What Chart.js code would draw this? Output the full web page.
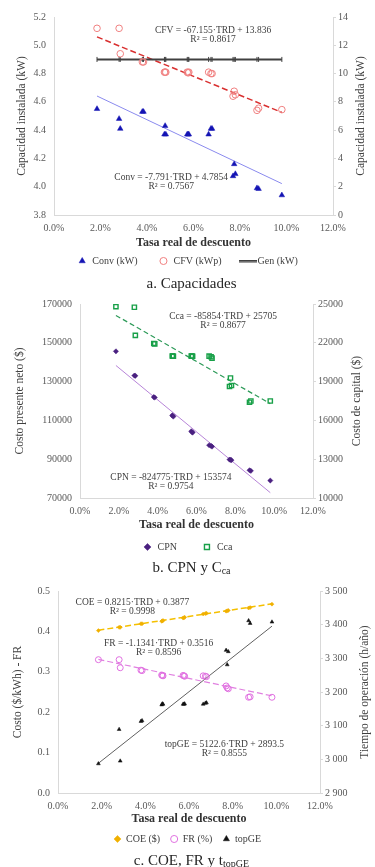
<!DOCTYPE html>
<html lang="es">
<head>
<meta charset="utf-8">
<title>Capacidades, CPN y COE vs TRD</title>
<script src="https://cdn.jsdelivr.net/npm/chart.js@4.4.1/dist/chart.umd.min.js"></script>
<style>
  body { margin: 0; background: #fff; width: 375px; height: 867px; position: relative; overflow: hidden; font-family: "Liberation Serif", "Times New Roman", serif; }
  .caja { position: absolute; left: 0; width: 375px; }
  .pie { position: absolute; left: 4px; width: 375px; text-align: center; font-size: 15px; line-height: 18px; color: #262626; }
  .pie sub { font-size: 10px; vertical-align: -2px; line-height: 0; }
</style>
</head>
<body>
<div class="caja" style="top:0;height:276px"><canvas id="graficoCap"></canvas></div>
<div class="pie" style="top:274px">a. Capacidades</div>
<div class="caja" style="top:290px;height:272px"><canvas id="graficoCPN"></canvas></div>
<div class="pie" style="top:558px">b. CPN y C<sub>ca</sub></div>
<div class="caja" style="top:577px;height:277px"><canvas id="graficoCOE"></canvas></div>
<div class="pie" style="top:851px">c. COE, FR y t<sub>topGE</sub></div>

<script>
// Tasa real de descuento de cada escenario
const trd = [0.0185, 0.028, 0.0285, 0.038, 0.0385, 0.0475, 0.0478, 0.0481, 0.0573, 0.0577,
             0.058, 0.0665, 0.0675, 0.068, 0.077, 0.0775, 0.078, 0.0873, 0.088, 0.098];

// a. Capacidades
const convKW = [4.55, 4.48, 4.41, 4.53, 4.53, 4.37, 4.43, 4.37, 4.37, 4.37,
                4.37, 4.37, 4.41, 4.41, 4.075, 4.16, 4.09, 3.99, 3.985, 3.94];
const cfvKWp = [13.2, 13.2, 11.4, 10.82, 10.82, 10.1, 10.1, 10.1, 10.1, 10.05,
                10.1, 10.1, 10.0, 10.0, 8.4, 8.75, 8.5, 7.4, 7.55, 7.45];
const genKW = [4.9, 4.9, 4.9, 4.9, 4.9, 4.9, 4.9, 4.9, 4.9, 4.9,
               4.9, 4.9, 4.9, 4.9, 4.9, 4.9, 4.9, 4.9, 4.9, 4.9];

// b. CPN y Cca
const cpn = [145600, 133100, 133000, 122000, 121800, 112600, 112300, 112000, 104400, 104000,
             103700, 97200, 96900, 96500, 89800, 89700, 89500, 84300, 84000, 79000];
const cca = [24800, 24750, 22570, 21950, 21920, 20980, 20970, 20960, 20970, 20980,
             20960, 20970, 20920, 20820, 18620, 19280, 18700, 17400, 17500, 17500];

// c. COE, FR y topGE
const coe = [0.402, 0.410, 0.410, 0.419, 0.419, 0.425, 0.426, 0.427, 0.433, 0.434,
             0.435, 0.443, 0.444, 0.445, 0.450, 0.451, 0.452, 0.458, 0.459, 0.4675];
const fr = [0.330, 0.330, 0.310, 0.304, 0.303, 0.292, 0.291, 0.290, 0.291, 0.290,
            0.289, 0.290, 0.289, 0.288, 0.265, 0.260, 0.258, 0.237, 0.238, 0.237];
const topGE = [2987, 3089, 2995, 3113, 3115, 3162, 3165, 3164, 3164, 3164,
               3165, 3164, 3167, 3168, 3324, 3281, 3320, 3412, 3404, 3408];

// ajustes lineales: [pendiente, ordenada, R²]
const ajusteConv = [-7.791, 4.7854, 0.7567];
const ajusteCFV = [-67.155, 13.836, 0.8617];
const ajusteCPN = [-824775, 153574, 0.9754];
const ajusteCca = [-85854, 25705, 0.8677];
const ajusteCOE = [0.8215, 0.3877, 0.9998];
const ajusteFR = [-1.1341, 0.3516, 0.8596];
const ajusteTop = [5122.6, 2893.5, 0.8555];

const FUENTE = '"Liberation Serif", "Times New Roman", serif';
const GRIS_EJE = '#d9d9d9';

function puntos(valores) {
    return trd.map((x, i) => ({ x: x, y: valores[i] }));
}

function recta(ajuste) {
    const x0 = Math.min(...trd);
    const x1 = Math.max(...trd);
    return [{ x: x0, y: ajuste[0] * x0 + ajuste[1] }, { x: x1, y: ajuste[0] * x1 + ajuste[1] }];
}

function ecuacion(nombre, ajuste) {
    const signo = ajuste[1] < 0 ? ' - ' : ' + ';
    return [nombre + ' = ' + ajuste[0] + '·TRD' + signo + Math.abs(ajuste[1]), 'R² = ' + ajuste[2]];
}

function miles(v) {
    const s = String(v);
    return s.length > 3 ? s.slice(0, -3) + ' ' + s.slice(-3) : s;
}

// linea para el icono de Gen en la leyenda
const lineaGen = document.createElement('canvas');
lineaGen.width = 18;
lineaGen.height = 3;
const g = lineaGen.getContext('2d');
g.fillStyle = '#404040';
g.fillRect(0, 0, 18, 2.5);

// ecuaciones de tendencia y titulo del eje derecho
function etiquetas(textos, tituloDer, xTitulo) {
    return {
        id: 'etiquetas',
        afterDatasetsDraw(chart) {
            const { ctx, chartArea } = chart;
            ctx.save();
            ctx.font = '9.5px ' + FUENTE;
            ctx.fillStyle = '#404040';
            ctx.textAlign = 'center';
            ctx.textBaseline = 'middle';
            textos.forEach(t => {
                const x = chartArea.left + t.fx * chartArea.width;
                const y = chartArea.top + t.fy * chartArea.height;
                t.lineas.forEach((linea, i) => ctx.fillText(linea, x, y + i * 9));
            });
            ctx.font = '11.5px ' + FUENTE;
            ctx.translate(xTitulo, (chartArea.top + chartArea.bottom) / 2);
            ctx.rotate(-Math.PI / 2);
            ctx.fillText(tituloDer, 0, 0);
            ctx.restore();
        }
    };
}

function ejeX(alto) {
    return {
        type: 'linear', min: 0, max: 0.12,
        grid: { display: false, drawTicks: false },
        border: { display: true, color: GRIS_EJE },
        ticks: {
            stepSize: 0.02, padding: 7, maxRotation: 0, autoSkip: false,
            color: '#595959', font: { family: FUENTE, size: 10 },
            callback: v => (v * 100).toFixed(1) + '%'
        },
        title: {
            display: true, text: 'Tasa real de descuento', color: '#333',
            font: { family: FUENTE, size: 12, weight: 'bold' }, padding: { top: 0, bottom: 0 }
        },
        afterFit: s => { s.height = alto; }
    };
}

function ejeY(lado, min, max, paso, titulo, ancho, margenTitulo, formato) {
    const derecho = lado === 'right';
    return {
        type: 'linear', position: lado, min: min, max: max,
        grid: { display: derecho, drawOnChartArea: false, drawTicks: derecho, tickLength: 3, color: GRIS_EJE },
        border: { display: true, color: GRIS_EJE },
        ticks: {
            stepSize: paso, padding: derecho ? 2 : 8,
            color: '#595959', font: { family: FUENTE, size: 10 }, callback: formato
        },
        title: {
            display: !derecho, text: titulo, color: '#404040',
            font: { family: FUENTE, size: 11.5 }, padding: { top: margenTitulo, bottom: 0 }
        },
        afterFit: s => { s.width = ancho; }
    };
}

function leyenda(relleno, ancho, espacios) {
    return {
        position: 'bottom',
        labels: {
            usePointStyle: true, boxWidth: ancho, boxHeight: 5, padding: relleno,
            color: '#404040', font: { family: FUENTE, size: 10 },
            generateLabels: chart => {
                const items = Chart.defaults.plugins.legend.labels.generateLabels(chart)
                    .filter(it => it.text !== '');
                items.forEach((it, i) => {
                    if (it.text === 'Gen (kW)') {
                        it.pointStyle = lineaGen;
                        it.rotation = 0;
                    }
                    if (i < items.length - 1) it.text += espacios;
                });
                return items;
            }
        }
    };
}

function tendencia(ajuste, eje, color, ancho, guiones) {
    return {
        label: '', data: recta(ajuste), yAxisID: eje, showLine: true,
        borderColor: color, borderWidth: ancho, borderDash: guiones, pointRadius: 0
    };
}

function crearGrafico(id, datasets, escalas, arriba, leyendaCfg, plugin) {
    return new Chart(document.getElementById(id), {
        type: 'scatter',
        data: { datasets: datasets },
        options: {
            responsive: true, maintainAspectRatio: false, animation: false,
            layout: { padding: { top: arriba, left: 0, right: 0, bottom: 0 } },
            scales: escalas,
            plugins: { legend: leyendaCfg, tooltip: { enabled: false } }
        },
        plugins: [plugin]
    });
}

document.addEventListener('DOMContentLoaded', function() {
    crearGrafico('graficoCap', [
        { label: 'Conv (kW)', data: puntos(convKW), yAxisID: 'y', pointStyle: 'triangle',
          pointRadius: 3.2, backgroundColor: '#1414b4', borderColor: '#1414b4', borderWidth: 0.5 },
        { label: 'CFV (kWp)', data: puntos(cfvKWp), yAxisID: 'y2', pointStyle: 'circle',
          pointRadius: 3.3, backgroundColor: 'rgba(255,255,255,0)', borderColor: '#f08080', borderWidth: 1 },
        { label: 'Gen (kW)', data: puntos(genKW), yAxisID: 'y', showLine: true, borderColor: '#404040',
          borderWidth: 2, pointStyle: 'line', pointRotation: 90, pointRadius: 2.5,
          pointBorderColor: '#404040', pointBorderWidth: 1, backgroundColor: '#404040' },
        tendencia(ajusteConv, 'y', '#8a8aee', 1, []),
        tendencia(ajusteCFV, 'y2', '#d93030', 1.5, [6, 3])
    ], {
        x: ejeX(35),
        y: ejeY('left', 3.8, 5.2, 0.2, 'Capacidad instalada (kW)', 54, 15, v => v.toFixed(1)),
        y2: ejeY('right', 0, 14, 2, '', 42, 0, v => String(v))
    }, 17, leyenda(6, 10, '      '), etiquetas([
        { fx: 0.57, fy: 0.07, lineas: ecuacion('CFV', ajusteCFV) },
        { fx: 0.42, fy: 0.81, lineas: ecuacion('Conv', ajusteConv) }
    ], 'Capacidad instalada (kW)', 361));

    crearGrafico('graficoCPN', [
        { label: 'CPN', data: puntos(cpn), yAxisID: 'y', pointStyle: 'rectRot',
          pointRadius: 2.6, backgroundColor: '#4a2080', borderColor: '#4a2080', borderWidth: 0.5 },
        { label: 'Cca', data: puntos(cca), yAxisID: 'y2', pointStyle: 'rect',
          pointRadius: 3, backgroundColor: 'rgba(255,255,255,0)', borderColor: '#18a048', borderWidth: 1.4 },
        tendencia(ajusteCPN, 'y', '#b784d8', 1, []),
        tendencia(ajusteCca, 'y2', '#2c9a58', 1.2, [5, 3])
    ], {
        x: ejeX(34),
        y: ejeY('left', 70000, 170000, 20000, 'Costo presente neto ($)', 80, 13, v => String(v)),
        y2: ejeY('right', 10000, 25000, 3000, '', 62, 0, v => String(v))
    }, 11, leyenda(10, 10, '      '), etiquetas([
        { fx: 0.614, fy: 0.063, lineas: ecuacion('Cca', ajusteCca) },
        { fx: 0.39, fy: 0.893, lineas: ecuacion('CPN', ajusteCPN) }
    ], 'Costo de capital ($)', 357));

    crearGrafico('graficoCOE', [
        { label: 'COE ($)', data: puntos(coe), yAxisID: 'y', pointStyle: 'rectRot',
          pointRadius: 2, backgroundColor: '#f0b000', borderColor: '#f0b000', borderWidth: 0.5 },
        { label: 'FR (%)', data: puntos(fr), yAxisID: 'y', pointStyle: 'circle',
          pointRadius: 3, backgroundColor: 'rgba(255,255,255,0)', borderColor: '#e070e0', borderWidth: 1 },
        { label: 'topGE', data: puntos(topGE), yAxisID: 'y2', pointStyle: 'triangle',
          pointRadius: 2.2, backgroundColor: '#111', borderColor: '#111', borderWidth: 0.5 },
        tendencia(ajusteCOE, 'y', '#f5c000', 1.5, [6, 3]),
        tendencia(ajusteFR, 'y', '#e080e0', 1.2, [6, 3]),
        tendencia(ajusteTop, 'y2', '#606060', 1, [])
    ], {
        x: ejeX(33),
        y: ejeY('left', 0, 0.5, 0.1, 'Costo ($/kWh) - FR', 58, 11, v => v.toFixed(1)),
        y2: ejeY('right', 2900, 3500, 100, '', 55, 0, miles)
    }, 10, leyenda(8, 7, ' '), etiquetas([
        { fx: 0.284, fy: 0.055, lineas: ecuacion('COE', ajusteCOE) },
        { fx: 0.384, fy: 0.259, lineas: ecuacion('FR', ajusteFR) },
        { fx: 0.635, fy: 0.76, lineas: ecuacion('topGE', ajusteTop) }
    ], 'Tiempo de operación (h/año)', 365));
});
</script>
</body>
</html>
